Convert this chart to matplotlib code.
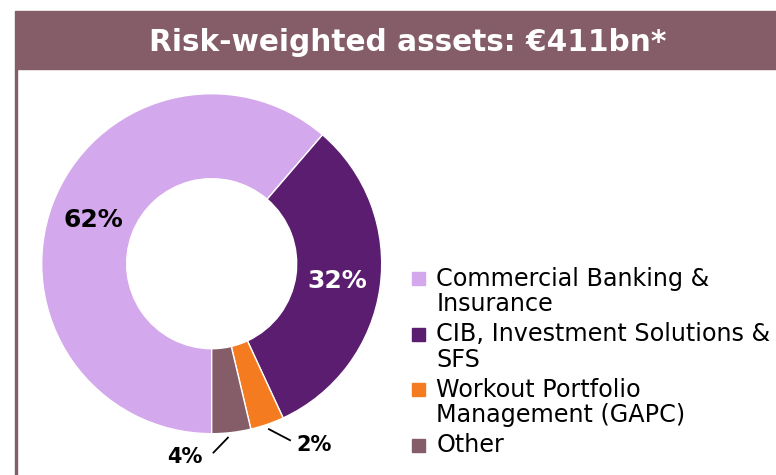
import numpy as np
import matplotlib.pyplot as plt
from matplotlib.patches import Rectangle

# segment data (shares read from the ring, labels as printed)
segments = ["Commercial Banking &\nInsurance",
            "CIB, Investment Solutions &\nSFS",
            "Workout Portfolio\nManagement (GAPC)",
            "Other"]
shares = [61.3, 31.8, 3.2, 3.7]
pct_labels = ["62%", "32%", "2%", "4%"]
colors = ["#D4A8EC", "#5A1D6F", "#F47B20", "#845D69"]
title = "Risk-weighted assets: \u20ac411bn*"

W, H = 776, 475
fig = plt.figure(figsize=(W / 100, H / 100), dpi=100)
plt.rcParams['font.family'] = ['DejaVu Sans']

def fx(px):
	return px / W

def fy(py):
	return 1 - py / H

# title bar and left border
bar = "#845D69"
fig.patches.append(Rectangle((fx(15), fy(69)), 1, 58 / H, transform=fig.transFigure,
							 color=bar, zorder=0))
fig.patches.append(Rectangle((fx(15), 0), 2 / W, fy(69), transform=fig.transFigure,
							 color=bar, zorder=0))
fig.text(fx(408), fy(50.7), title, ha="center", va="baseline",
		 color="white", fontsize=21.3, fontweight="bold")

# donut
cx, cy, r = 211.7, 263.7, 170
ax = fig.add_axes([fx(cx - r), fy(cy + r), 2 * r / W, 2 * r / H])
wedges, _ = ax.pie(shares, colors=colors, startangle=-90, counterclock=False,
				   radius=1, wedgeprops=dict(width=0.5, edgecolor="white", linewidth=1))
ax.set_xlim(-1, 1)
ax.set_ylim(-1, 1)
ax.set_aspect("equal")
ax.axis("off")

label_colors = ["black", "white"]
for i, w in enumerate(wedges):
	mid = np.deg2rad((w.theta1 + w.theta2) / 2)
	if i < 2:
		ax.text(0.745 * np.cos(mid), 0.745 * np.sin(mid), pct_labels[i],
				ha="center", va="center", fontsize=18, fontweight="bold",
				color=label_colors[i])

# small slices: labels outside with short leader lines
outside = {2: ((0.0, 0.0), (0.124, -0.065), (0.602, -1.066)),
		   3: ((-0.024, 0.0), (-0.085, -0.088), (-0.157, -1.135))}
for i, (shift, vec, pos) in outside.items():
	w = wedges[i]
	mid = np.deg2rad((w.theta1 + w.theta2) / 2)
	x0 = 1.03 * np.cos(mid) + shift[0]
	y0 = 1.03 * np.sin(mid) + shift[1]
	ax.plot([x0, x0 + vec[0]], [y0, y0 + vec[1]], color="black", lw=1.3, clip_on=False)
	ax.text(pos[0], pos[1], pct_labels[i], ha="center", va="center",
			fontsize=15, fontweight="bold", clip_on=False)

# legend
base0, step, line_step = 286, 55.5, 25.3
for i, (name, c) in enumerate(zip(segments, colors)):
	b = base0 + i * step
	fig.patches.append(Rectangle((fx(412), fy(b - 1)), 13 / W, 13 / H,
								 transform=fig.transFigure, color=c))
	for j, line in enumerate(name.split("\n")):
		fig.text(fx(436.5), fy(b + j * line_step), line, ha="left", va="baseline",
				 fontsize=17.2, color="black")

fig.savefig("out.png", dpi=100)
